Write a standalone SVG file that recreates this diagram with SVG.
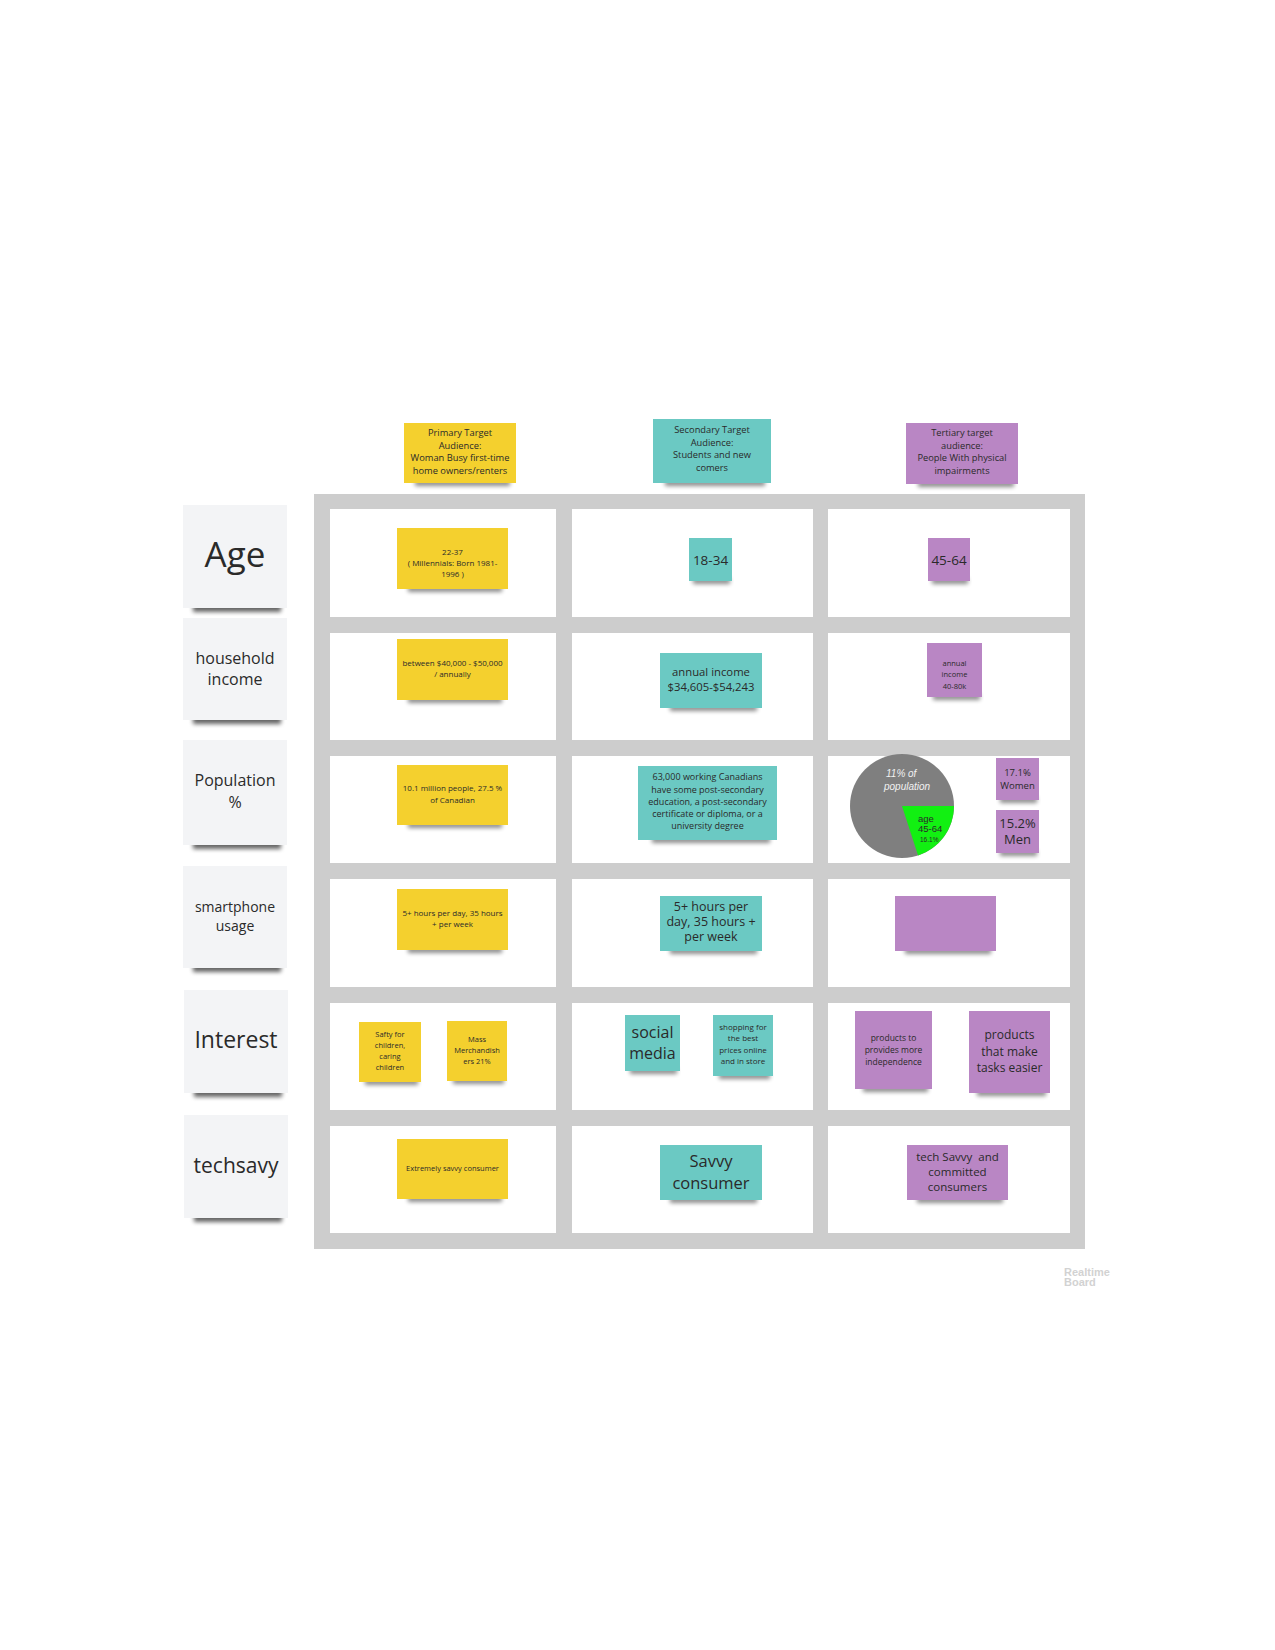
<svg xmlns="http://www.w3.org/2000/svg" width="1275" height="1650" viewBox="0 0 1275 1650">
<defs>
<filter id="blur" x="-30%" y="-200%" width="160%" height="500%"><feGaussianBlur stdDeviation="2"/></filter>
<style>
.y{fill:#F4D02E}
.t{fill:#6BC9C3}
.p{fill:#B986C4}
.lb{fill:#F3F4F6}
.sh{fill:#000;opacity:.45;filter:url(#blur)}
.lsh{fill:#000;opacity:.6;filter:url(#blur)}
text{font-family:"Open Sans","Liberation Sans",sans-serif;fill:#2a2a2a;text-anchor:middle}
.pie{font-family:"Liberation Sans",Arial,sans-serif;text-anchor:start}
</style>
</defs>
<rect width="1275" height="1650" fill="#fff"/>

<g id="grid">
<rect x="314" y="494" width="771" height="755" fill="#CDCDCD"/>
<g fill="#fff">
<rect x="330" y="509" width="226" height="108"/><rect x="572" y="509" width="241" height="108"/><rect x="828" y="509" width="242" height="108"/>
<rect x="330" y="633" width="226" height="107"/><rect x="572" y="633" width="241" height="107"/><rect x="828" y="633" width="242" height="107"/>
<rect x="330" y="756" width="226" height="107"/><rect x="572" y="756" width="241" height="107"/><rect x="828" y="756" width="242" height="107"/>
<rect x="330" y="879" width="226" height="108"/><rect x="572" y="879" width="241" height="108"/><rect x="828" y="879" width="242" height="108"/>
<rect x="330" y="1003" width="226" height="107"/><rect x="572" y="1003" width="241" height="107"/><rect x="828" y="1003" width="242" height="107"/>
<rect x="330" y="1126" width="226" height="107"/><rect x="572" y="1126" width="241" height="107"/><rect x="828" y="1126" width="242" height="107"/>
</g>
</g>

<g id="connectors"/>

<g id="label-age"><rect class="lsh" x="193" y="603" width="88" height="9"/><rect class="lb" x="183" y="505" width="104" height="103"/><text x="235" y="567" font-size="35">Age</text></g>
<g id="label-household"><rect class="lsh" x="193" y="715" width="88" height="9"/><rect class="lb" x="183" y="618" width="104" height="102"/><text x="235" y="664" font-size="16">household</text><text x="235" y="685" font-size="16">income</text></g>
<g id="label-population"><rect class="lsh" x="193" y="840" width="88" height="9"/><rect class="lb" x="183" y="740" width="104" height="105"/><text x="235" y="786" font-size="16">Population</text><text x="235" y="808" font-size="16">%</text></g>
<g id="label-smartphone"><rect class="lsh" x="193" y="963" width="88" height="9"/><rect class="lb" x="183" y="866" width="104" height="102"/><text x="235" y="912" font-size="14">smartphone</text><text x="235" y="931" font-size="14">usage</text></g>
<g id="label-interest"><rect class="lsh" x="194" y="1088" width="88" height="9"/><rect class="lb" x="184" y="990" width="104" height="103"/><text x="236" y="1048" font-size="23">Interest</text></g>
<g id="label-techsavy"><rect class="lsh" x="194" y="1213" width="88" height="9"/><rect class="lb" x="184" y="1115" width="104" height="103"/><text x="236" y="1173" font-size="21">techsavy</text></g>

<g id="hdr-primary"><rect class="sh" x="415" y="480" width="95" height="6"/><rect class="y" x="404" y="423" width="112" height="60"/>
<text x="460" y="436" font-size="9.3">Primary Target</text><text x="460" y="448.5" font-size="9.3">Audience:</text><text x="460" y="461" font-size="9.3">Woman Busy first-time</text><text x="460" y="473.5" font-size="9.3">home owners/renters</text></g>
<g id="hdr-secondary"><rect class="sh" x="665" y="480" width="100" height="6"/><rect class="t" x="653" y="419" width="118" height="64"/>
<text x="712" y="433" font-size="9.3">Secondary Target</text><text x="712" y="445.5" font-size="9.3">Audience:</text><text x="712" y="458" font-size="9.3">Students and new</text><text x="712" y="470.5" font-size="9.3">comers</text></g>
<g id="hdr-tertiary"><rect class="sh" x="918" y="481" width="96" height="6"/><rect class="p" x="906" y="423" width="112" height="61"/>
<text x="962" y="436" font-size="9.3">Tertiary target</text><text x="962" y="448.5" font-size="9.3">audience:</text><text x="962" y="461" font-size="9.3">People With physical</text><text x="962" y="473.5" font-size="9.3">impairments</text></g>

<g id="age-primary"><rect class="sh" x="408" y="586" width="94" height="6"/><rect class="y" x="397" y="528" width="111" height="61"/>
<text x="452.5" y="555" font-size="8">22-37</text><text x="452.5" y="566" font-size="8">( Millennials: Born 1981-</text><text x="452.5" y="577" font-size="8">1996 )</text></g>
<g id="age-secondary"><rect class="sh" x="693" y="578" width="37" height="6"/><rect class="t" x="689" y="538" width="43" height="43"/><text x="710.5" y="565" font-size="13.5">18-34</text></g>
<g id="age-tertiary"><rect class="sh" x="932" y="578" width="36" height="6"/><rect class="p" x="928" y="538" width="42" height="43"/><text x="949" y="565" font-size="13.5">45-64</text></g>

<g id="income-primary"><rect class="sh" x="408" y="697" width="94" height="6"/><rect class="y" x="397" y="639" width="111" height="61"/>
<text x="452.5" y="666" font-size="8">between $40,000 - $50,000</text><text x="452.5" y="677" font-size="8">/ annually</text></g>
<g id="income-secondary"><rect class="sh" x="670" y="705" width="87" height="6"/><rect class="t" x="660" y="653" width="102" height="55"/>
<text x="711" y="676" font-size="11.3">annual income</text><text x="711" y="691" font-size="11.3">$34,605-$54,243</text></g>
<g id="income-tertiary"><rect class="sh" x="933" y="694" width="47" height="6"/><rect class="p" x="927" y="643" width="55" height="54"/>
<text x="954.5" y="666" font-size="7.5">annual</text><text x="954.5" y="677" font-size="7.5">income</text><text x="954.5" y="689" font-size="7.5">40-80k</text></g>

<g id="pop-primary"><rect class="sh" x="408" y="822" width="94" height="6"/><rect class="y" x="397" y="765" width="111" height="60"/>
<text x="452.5" y="791" font-size="8">10.1 million people, 27.5 %</text><text x="452.5" y="803" font-size="8">of Canadian</text></g>
<g id="pop-secondary"><rect class="sh" x="652" y="837" width="118" height="6"/><rect class="t" x="638" y="766" width="139" height="74"/>
<text x="707.5" y="780" font-size="9">63,000 working Canadians</text><text x="707.5" y="792.5" font-size="9">have some post-secondary</text><text x="707.5" y="805" font-size="9">education, a post-secondary</text><text x="707.5" y="817" font-size="9">certificate or diploma, or a</text><text x="707.5" y="829" font-size="9">university degree</text></g>
<g id="pop-pie">
<circle cx="902" cy="806" r="52" fill="#7F7F7F"/>
<path d="M902,806 L954,806 A52,52 0 0 1 918.1,855.5 Z" fill="#12F012"/>
<text class="pie" x="886" y="777" font-size="10" font-style="italic" style="fill:#F2F2F2">11% of</text>
<text class="pie" x="884" y="790" font-size="10" font-style="italic" style="fill:#F2F2F2">population</text>
<text class="pie" x="918" y="822" font-size="9.5">age</text>
<text class="pie" x="918" y="832" font-size="9.5">45-64</text>
<text class="pie" x="920" y="842" font-size="6.5">16.1%</text>
</g>
<g id="pop-women"><rect class="sh" x="1000" y="797" width="37" height="6"/><rect class="p" x="996" y="758" width="43" height="42"/>
<text x="1017.5" y="776" font-size="9.5">17.1%</text><text x="1017.5" y="788.5" font-size="9.5">Women</text></g>
<g id="pop-men"><rect class="sh" x="1000" y="850" width="37" height="6"/><rect class="p" x="996" y="810" width="43" height="43"/>
<text x="1017.5" y="828" font-size="13">15.2%</text><text x="1017.5" y="844" font-size="13">Men</text></g>

<g id="phone-primary"><rect class="sh" x="408" y="947" width="94" height="6"/><rect class="y" x="397" y="889" width="111" height="61"/>
<text x="452.5" y="916" font-size="8">5+ hours per day, 35 hours</text><text x="452.5" y="926.5" font-size="8">+ per week</text></g>
<g id="phone-secondary"><rect class="sh" x="670" y="948" width="87" height="6"/><rect class="t" x="660" y="896" width="102" height="55"/>
<text x="711" y="911" font-size="12.5">5+ hours per</text><text x="711" y="926" font-size="12.5">day, 35 hours +</text><text x="711" y="941" font-size="12.5">per week</text></g>
<g id="phone-tertiary"><rect class="sh" x="905" y="948" width="86" height="6"/><rect class="p" x="895" y="896" width="101" height="55"/></g>

<g id="interest-safety"><rect class="sh" x="365" y="1079" width="53" height="6"/><rect class="y" x="359" y="1022" width="62" height="60"/>
<text x="390" y="1037" font-size="7.5">Safty for</text><text x="390" y="1048" font-size="7.5">children,</text><text x="390" y="1059" font-size="7.5">caring</text><text x="390" y="1070" font-size="7.5">children</text></g>
<g id="interest-mass"><rect class="sh" x="453" y="1078" width="51" height="6"/><rect class="y" x="447" y="1021" width="60" height="60"/>
<text x="477" y="1042" font-size="7.5">Mass</text><text x="477" y="1053" font-size="7.5">Merchandish</text><text x="477" y="1064" font-size="7.5">ers 21%</text></g>
<g id="interest-social"><rect class="sh" x="630" y="1068" width="47" height="6"/><rect class="t" x="625" y="1015" width="55" height="56"/>
<text x="652.5" y="1037.5" font-size="16">social</text><text x="652.5" y="1058.5" font-size="16">media</text></g>
<g id="interest-shopping"><rect class="sh" x="719" y="1073" width="51" height="6"/><rect class="t" x="713" y="1015" width="60" height="61"/>
<text x="743" y="1030" font-size="8">shopping for</text><text x="743" y="1041" font-size="8">the best</text><text x="743" y="1053" font-size="8">prices online</text><text x="743" y="1064" font-size="8">and in store</text></g>
<g id="interest-independence"><rect class="sh" x="863" y="1086" width="65" height="6"/><rect class="p" x="855" y="1011" width="77" height="78"/>
<text x="893.5" y="1041" font-size="8.5">products to</text><text x="893.5" y="1053" font-size="8.5">provides more</text><text x="893.5" y="1065" font-size="8.5">independence</text></g>
<g id="interest-easier"><rect class="sh" x="977" y="1090" width="69" height="6"/><rect class="p" x="969" y="1011" width="81" height="82"/>
<text x="1009.5" y="1039" font-size="12">products</text><text x="1009.5" y="1056" font-size="12">that make</text><text x="1009.5" y="1072" font-size="12">tasks easier</text></g>

<g id="tech-primary"><rect class="sh" x="408" y="1196" width="94" height="6"/><rect class="y" x="397" y="1139" width="111" height="60"/>
<text x="452.5" y="1171" font-size="7.5">Extremely savvy consumer</text></g>
<g id="tech-secondary"><rect class="sh" x="670" y="1197" width="87" height="6"/><rect class="t" x="660" y="1145" width="102" height="55"/>
<text x="711" y="1167" font-size="16.5">Savvy</text><text x="711" y="1189" font-size="16.5">consumer</text></g>
<g id="tech-tertiary"><rect class="sh" x="917" y="1197" width="86" height="6"/><rect class="p" x="907" y="1145" width="101" height="55"/>
<text x="957.5" y="1161" font-size="11.5">tech Savvy&#160; and</text><text x="957.5" y="1176" font-size="11.5">committed</text><text x="957.5" y="1191" font-size="11.5">consumers</text></g>

<g id="watermark">
<text x="1064" y="1276" font-size="11" style="text-anchor:start;fill:#D2D2D2;font-family:'Liberation Sans',Arial,sans-serif;font-weight:bold">Realtime</text>
<text x="1064" y="1286" font-size="11" style="text-anchor:start;fill:#D2D2D2;font-family:'Liberation Sans',Arial,sans-serif;font-weight:bold">Board</text>
</g>
</svg>
